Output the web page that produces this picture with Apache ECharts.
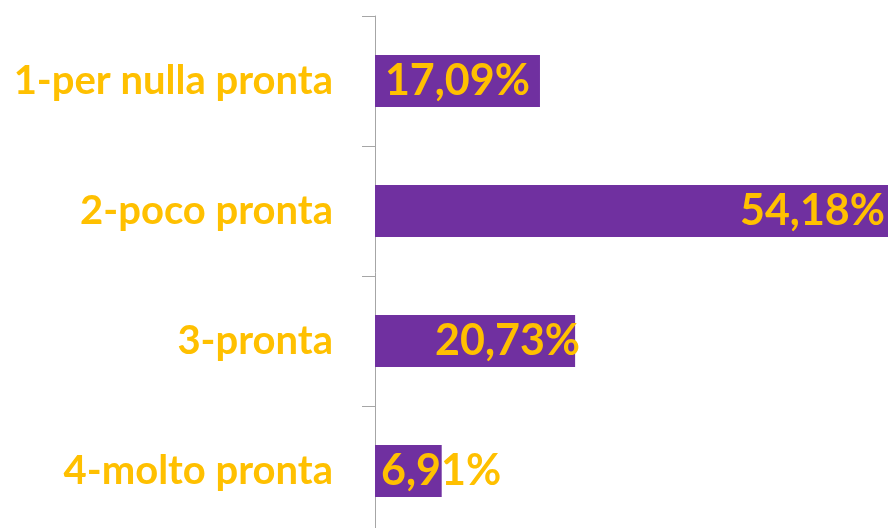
<!DOCTYPE html>
<html>
<head>
<meta charset="utf-8">
<script src="https://cdn.jsdelivr.net/npm/echarts@6/dist/echarts.min.js"></script>
<style>
  html, body { margin: 0; padding: 0; background: #fff; }
</style>
</head>
<body>
<div id="chart" style="width:888px; height:528px;"></div>
<script>
// categorie e valori (percentuali)
var categories = ['1-per nulla pronta', '2-poco pronta', '3-pronta', '4-molto pronta'];
var values = [17.09, 54.18, 20.73, 6.91];

// posizione etichette, come nel grafico originale
var labelPlace = [
  { position: 'insideRight', distance: 10 },
  { position: 'insideRight', distance: 13 },
  { position: 'insideRight', distance: -5 },
  { position: 'insideLeft', distance: 6 }
];

var purple = '#7030A0';
var orange = '#FFC000';

var seriesData = values.map(function (v, i) {
  return {
    value: v,
    label: labelPlace[i]
  };
});

var myChart = echarts.init(document.getElementById('chart'));
myChart.setOption({
  animation: false,
  grid: {
    left: 375,
    top: 16,
    width: 523,   // la barra più lunga esce dal bordo destro
    height: 520,
    outerBoundsMode: 'none'
  },
  xAxis: {
    type: 'value',
    min: 0,
    max: 54.18,
    show: false
  },
  yAxis: {
    type: 'category',
    data: categories,
    inverse: true,
    axisLine: { lineStyle: { color: '#A6A6A6', width: 1 } },
    axisTick: { show: true, length: 13, lineStyle: { color: '#A6A6A6' } },
    axisLabel: {
      margin: 42,
      color: orange,
      fontFamily: 'Lato',
      fontWeight: 'bold',
      fontSize: 40
    }
  },
  series: [{
    type: 'bar',
    data: seriesData,
    barWidth: '40%',
    itemStyle: { color: purple },
    label: {
      show: true,
      color: orange,
      fontFamily: 'Lato',
      fontWeight: 'bold',
      fontSize: 43,
      formatter: function (p) {
        return p.value.toFixed(2).replace('.', ',') + '%';
      }
    }
  }]
});
</script>
</body>
</html>
